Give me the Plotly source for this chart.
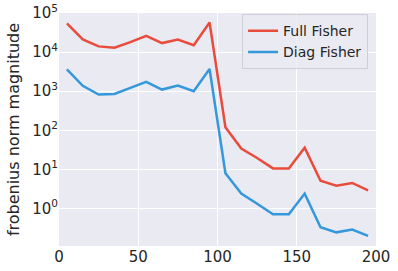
import plotly.graph_objects as go

x_vals = [5, 15, 25, 35, 45, 55, 65, 75, 85, 95, 105, 115, 125, 135, 145, 155, 165, 175, 185, 195]
full_fisher = [54000, 21000, 14000, 13000, 18000, 26000, 17000, 21000, 15000, 57000,
               120, 34, 19.5, 10.6, 10.6, 36, 5.1, 3.8, 4.5, 2.9]
diag_fisher = [3600, 1370, 820, 850, 1220, 1740, 1100, 1400, 1000, 3700,
               8.0, 2.4, 1.32, 0.71, 0.71, 2.4, 0.33, 0.245, 0.29, 0.2]
x_ticks = [0, 50, 100, 150, 200]
y_ticks = [1, 10, 100, 1000, 10000, 100000]
y_ticktext = ["10<sup>0</sup>", "10<sup>1</sup>", "10<sup>2</sup>",
              "10<sup>3</sup>", "10<sup>4</sup>", "10<sup>5</sup>"]

fig = go.Figure()
fig.add_trace(go.Scatter(x=x_vals, y=full_fisher, mode="lines", name="Full Fisher",
                         line=dict(color="#E74C3C", width=2.5)))
fig.add_trace(go.Scatter(x=x_vals, y=diag_fisher, mode="lines", name="Diag Fisher",
                         line=dict(color="#3498DB", width=2.5)))

fig.update_layout(
    width=398, height=271,
    margin=dict(l=59, r=22, t=13, b=25, autoexpand=False),
    paper_bgcolor="white",
    plot_bgcolor="#EAEAF2",
    font=dict(family="DejaVu Sans", size=15, color="#262626"),
    legend=dict(x=0.975, y=0.995, xanchor="right", yanchor="top",
                bgcolor="rgba(234,234,242,0.8)", bordercolor="#CFCFD6", borderwidth=1,
                font=dict(size=14)),
    xaxis=dict(range=[0, 200], tickvals=x_ticks, showgrid=True, gridcolor="white",
               gridwidth=1.2, zeroline=False, ticks="", showline=False, automargin=False),
    yaxis=dict(type="log", range=[-0.96, 5.0], tickvals=y_ticks, ticktext=y_ticktext,
               showgrid=True, gridcolor="white", gridwidth=1.2, zeroline=False,
               ticks="", showline=False, automargin=False,
               title=dict(text="frobenius norm magnitude", font=dict(size=16), standoff=8)),
)

fig.write_html("out.html", config={"displayModeBar": False},
               post_script="document.body.style.margin='0';document.body.style.overflow='hidden';")
